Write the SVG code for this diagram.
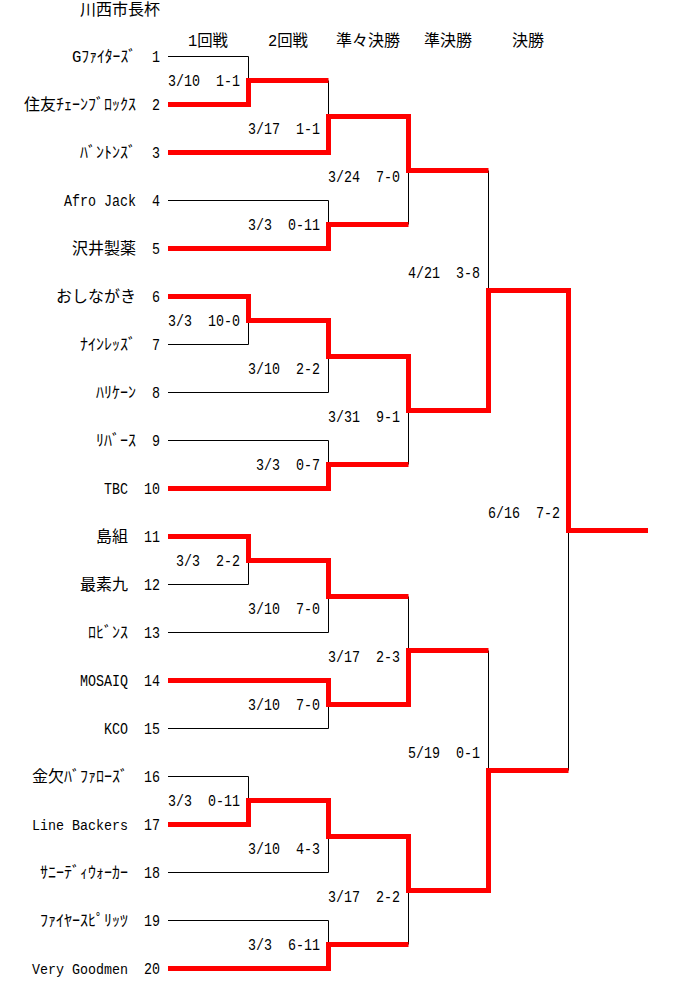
<svg xmlns="http://www.w3.org/2000/svg" width="680" height="1008" viewBox="0 0 680 1008">
<style>
.f{font-family:"Liberation Mono","Noto Sans CJK JP",monospace;font-size:16px;fill:#000}
.s{white-space:pre}
.n{font-size:14px}
.w{fill:none;stroke:#000;stroke-width:1}
.r{fill:none;stroke:#ff0000;stroke-width:5;stroke-linejoin:miter;stroke-linecap:butt}
</style>
<rect width="680" height="1008" fill="#fff"/>
<g id="header">
<text class="f" x="80" y="15" textLength="80" lengthAdjust="spacingAndGlyphs">川西市長杯</text>
<text class="f" x="188" y="46" textLength="40" lengthAdjust="spacingAndGlyphs">1回戦</text>
<text class="f" x="268" y="46" textLength="40" lengthAdjust="spacingAndGlyphs">2回戦</text>
<text class="f" x="336" y="46" textLength="64" lengthAdjust="spacingAndGlyphs">準々決勝</text>
<text class="f" x="424" y="46" textLength="48" lengthAdjust="spacingAndGlyphs">準決勝</text>
<text class="f" x="512" y="46" textLength="32" lengthAdjust="spacingAndGlyphs">決勝</text>
</g>
<g id="connectors">
<path class="w" d="M168 56.5H248.5V80.5M328.5 80.5V116.5M168 200.5H328.5V224.5M408.5 224.5V170.5M488.5 170.5V290.5"/>
<path class="w" d="M168 344.5H248.5V320.5M168 392.5H328.5V356.5M168 440.5H328.5V464.5M408.5 464.5V410.5"/>
<path class="w" d="M168 584.5H248.5V560.5M168 632.5H328.5V596.5M168 728.5H328.5V704.5M408.5 596.5V650.5M488.5 650.5V770.5"/>
<path class="w" d="M168 776.5H248.5V800.5M168 872.5H328.5V836.5M168 920.5H328.5V944.5M408.5 944.5V890.5M568.5 770.5V530.5"/>
<path class="r" d="M168 104.5H248.5V80.5H328.5"/>
<path class="r" d="M168 152.5H328.5V116.5H408.5V170.5H488.5"/>
<path class="r" d="M168 248.5H328.5V224.5H408.5"/>
<path class="r" d="M168 296.5H248.5V320.5H328.5V356.5H408.5V410.5H488.5V290.5H568.5V530.5H648"/>
<path class="r" d="M168 488.5H328.5V464.5H408.5"/>
<path class="r" d="M168 536.5H248.5V560.5H328.5V596.5H408.5"/>
<path class="r" d="M168 680.5H328.5V704.5H408.5V650.5H488.5"/>
<path class="r" d="M168 824.5H248.5V800.5H328.5V836.5H408.5V890.5H488.5V770.5H568.5"/>
<path class="r" d="M168 968.5H328.5V944.5H408.5"/>
</g>
<g id="scores">
<text class="f s" x="168" y="86" textLength="72" lengthAdjust="spacingAndGlyphs">3/10 &#160;1-1</text>
<text class="f s" x="248" y="134" textLength="72" lengthAdjust="spacingAndGlyphs">3/17 &#160;1-1</text>
<text class="f s" x="248" y="230" textLength="72" lengthAdjust="spacingAndGlyphs">3/3 &#160;0-11</text>
<text class="f s" x="328" y="182" textLength="72" lengthAdjust="spacingAndGlyphs">3/24 &#160;7-0</text>
<text class="f s" x="408" y="278" textLength="72" lengthAdjust="spacingAndGlyphs">4/21 &#160;3-8</text>
<text class="f s" x="168" y="326" textLength="72" lengthAdjust="spacingAndGlyphs">3/3 &#160;10-0</text>
<text class="f s" x="248" y="374" textLength="72" lengthAdjust="spacingAndGlyphs">3/10 &#160;2-2</text>
<text class="f s" x="256" y="470" textLength="64" lengthAdjust="spacingAndGlyphs">3/3 &#160;0-7</text>
<text class="f s" x="328" y="422" textLength="72" lengthAdjust="spacingAndGlyphs">3/31 &#160;9-1</text>
<text class="f s" x="488" y="518" textLength="72" lengthAdjust="spacingAndGlyphs">6/16 &#160;7-2</text>
<text class="f s" x="176" y="566" textLength="64" lengthAdjust="spacingAndGlyphs">3/3 &#160;2-2</text>
<text class="f s" x="248" y="614" textLength="72" lengthAdjust="spacingAndGlyphs">3/10 &#160;7-0</text>
<text class="f s" x="248" y="710" textLength="72" lengthAdjust="spacingAndGlyphs">3/10 &#160;7-0</text>
<text class="f s" x="328" y="662" textLength="72" lengthAdjust="spacingAndGlyphs">3/17 &#160;2-3</text>
<text class="f s" x="408" y="758" textLength="72" lengthAdjust="spacingAndGlyphs">5/19 &#160;0-1</text>
<text class="f s" x="168" y="806" textLength="72" lengthAdjust="spacingAndGlyphs">3/3 &#160;0-11</text>
<text class="f s" x="248" y="854" textLength="72" lengthAdjust="spacingAndGlyphs">3/10 &#160;4-3</text>
<text class="f s" x="248" y="950" textLength="72" lengthAdjust="spacingAndGlyphs">3/3 &#160;6-11</text>
<text class="f s" x="328" y="902" textLength="72" lengthAdjust="spacingAndGlyphs">3/17 &#160;2-2</text>
</g>
<g id="team1"><text class="f" x="72" y="62" textLength="64" lengthAdjust="spacingAndGlyphs">Gﾌｧｲﾀｰｽﾞ</text><text class="f" x="152" y="62" textLength="8" lengthAdjust="spacingAndGlyphs">1</text></g>
<g id="team2"><text class="f" x="24" y="110" textLength="112" lengthAdjust="spacingAndGlyphs">住友ﾁｪｰﾝﾌﾞﾛｯｸｽ</text><text class="f" x="152" y="110" textLength="8" lengthAdjust="spacingAndGlyphs">2</text></g>
<g id="team3"><text class="f" x="80" y="158" textLength="56" lengthAdjust="spacingAndGlyphs">ﾊﾞﾝﾄﾝｽﾞ</text><text class="f" x="152" y="158" textLength="8" lengthAdjust="spacingAndGlyphs">3</text></g>
<g id="team4"><text class="f" x="64" y="206" textLength="72" lengthAdjust="spacingAndGlyphs">Afro Jack</text><text class="f" x="152" y="206" textLength="8" lengthAdjust="spacingAndGlyphs">4</text></g>
<g id="team5"><text class="f" x="72" y="254" textLength="64" lengthAdjust="spacingAndGlyphs">沢井製薬</text><text class="f" x="152" y="254" textLength="8" lengthAdjust="spacingAndGlyphs">5</text></g>
<g id="team6"><text class="f" x="56" y="302" textLength="80" lengthAdjust="spacingAndGlyphs">おしながき</text><text class="f" x="152" y="302" textLength="8" lengthAdjust="spacingAndGlyphs">6</text></g>
<g id="team7"><text class="f" x="80" y="350" textLength="56" lengthAdjust="spacingAndGlyphs">ﾅｲﾝﾚｯｽﾞ</text><text class="f" x="152" y="350" textLength="8" lengthAdjust="spacingAndGlyphs">7</text></g>
<g id="team8"><text class="f" x="96" y="398" textLength="40" lengthAdjust="spacingAndGlyphs">ﾊﾘｹｰﾝ</text><text class="f" x="152" y="398" textLength="8" lengthAdjust="spacingAndGlyphs">8</text></g>
<g id="team9"><text class="f" x="96" y="446" textLength="40" lengthAdjust="spacingAndGlyphs">ﾘﾊﾞｰｽ</text><text class="f" x="152" y="446" textLength="8" lengthAdjust="spacingAndGlyphs">9</text></g>
<g id="team10"><text class="f" x="104" y="494" textLength="24" lengthAdjust="spacingAndGlyphs">TBC</text><text class="f" x="144" y="494" textLength="16" lengthAdjust="spacingAndGlyphs">10</text></g>
<g id="team11"><text class="f" x="96" y="542" textLength="32" lengthAdjust="spacingAndGlyphs">島組</text><text class="f" x="144" y="542" textLength="16" lengthAdjust="spacingAndGlyphs">11</text></g>
<g id="team12"><text class="f" x="80" y="590" textLength="48" lengthAdjust="spacingAndGlyphs">最素九</text><text class="f" x="144" y="590" textLength="16" lengthAdjust="spacingAndGlyphs">12</text></g>
<g id="team13"><text class="f" x="88" y="638" textLength="40" lengthAdjust="spacingAndGlyphs">ﾛﾋﾞﾝｽ</text><text class="f" x="144" y="638" textLength="16" lengthAdjust="spacingAndGlyphs">13</text></g>
<g id="team14"><text class="f" x="80" y="686" textLength="48" lengthAdjust="spacingAndGlyphs">MOSAIQ</text><text class="f" x="144" y="686" textLength="16" lengthAdjust="spacingAndGlyphs">14</text></g>
<g id="team15"><text class="f" x="104" y="734" textLength="24" lengthAdjust="spacingAndGlyphs">KCO</text><text class="f" x="144" y="734" textLength="16" lengthAdjust="spacingAndGlyphs">15</text></g>
<g id="team16"><text class="f" x="32" y="782" textLength="96" lengthAdjust="spacingAndGlyphs">金欠ﾊﾞﾌｧﾛｰｽﾞ</text><text class="f" x="144" y="782" textLength="16" lengthAdjust="spacingAndGlyphs">16</text></g>
<g id="team17"><text class="f n" x="32" y="830" textLength="96" lengthAdjust="spacingAndGlyphs">Line Backers</text><text class="f" x="144" y="830" textLength="16" lengthAdjust="spacingAndGlyphs">17</text></g>
<g id="team18"><text class="f" x="40" y="878" textLength="88" lengthAdjust="spacingAndGlyphs">ｻﾆｰﾃﾞｨｳｫｰｶｰ</text><text class="f" x="144" y="878" textLength="16" lengthAdjust="spacingAndGlyphs">18</text></g>
<g id="team19"><text class="f" x="40" y="926" textLength="88" lengthAdjust="spacingAndGlyphs">ﾌｧｲﾔｰｽﾋﾟﾘｯﾂ</text><text class="f" x="144" y="926" textLength="16" lengthAdjust="spacingAndGlyphs">19</text></g>
<g id="team20"><text class="f n" x="32" y="974" textLength="96" lengthAdjust="spacingAndGlyphs">Very Goodmen</text><text class="f" x="144" y="974" textLength="16" lengthAdjust="spacingAndGlyphs">20</text></g>
</svg>
